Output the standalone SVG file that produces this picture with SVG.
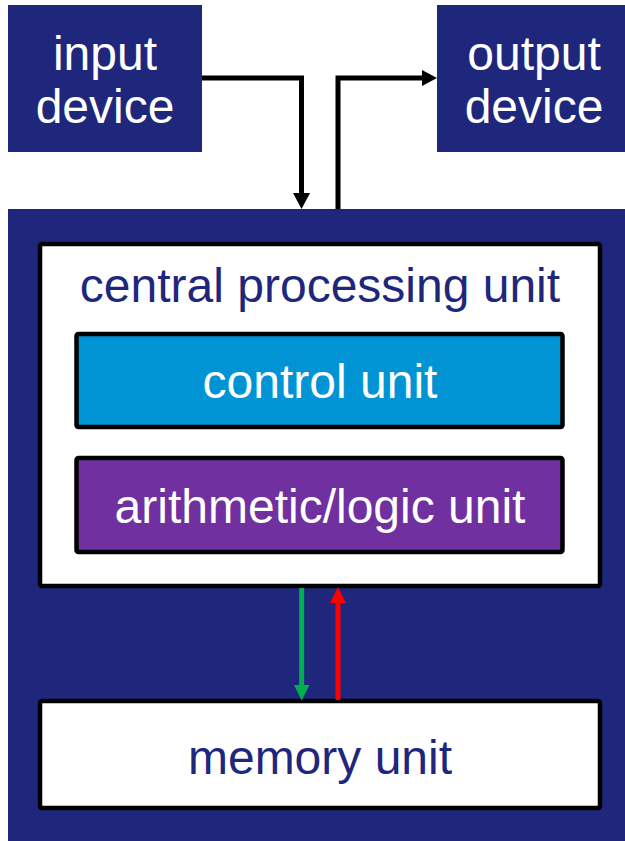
<svg xmlns="http://www.w3.org/2000/svg" width="625" height="841" viewBox="0 0 625 841">
  <defs>
    <style>
      .navy { fill: #1f277c; }
      .frame { stroke: #000; stroke-width: 4.5; stroke-linejoin: round; }
      .lbl { font-family: "Liberation Sans", Arial, sans-serif; font-size: 48px; text-anchor: middle; }
      .light { fill: #ffffff; }
      .dark { fill: #1f277c; }
      .wire { fill: none; stroke-width: 5; stroke-linejoin: miter; }
    </style>
  </defs>

  <rect width="625" height="841" fill="#ffffff"/>

  <!-- outer computer enclosure -->
  <g id="computer">
    <rect class="navy" x="8" y="209" width="625" height="640"/>
  </g>

  <g id="input-device">
    <rect class="navy" x="8" y="5" width="194" height="147"/>
    <text class="lbl light" x="105" y="70">input</text>
    <text class="lbl light" x="105" y="123">device</text>
  </g>

  <g id="output-device">
    <rect class="navy" x="437" y="5" width="200" height="147"/>
    <text class="lbl light" x="534" y="70">output</text>
    <text class="lbl light" x="534" y="123">device</text>
  </g>

  <g id="cpu">
    <rect class="frame" x="40" y="244" width="560" height="342" rx="2" fill="#ffffff"/>
    <text class="lbl dark" x="320" y="302">central processing unit</text>
  </g>

  <g id="control-unit">
    <rect class="frame" x="76.5" y="334" width="486" height="93" rx="2" fill="#0094d4"/>
    <text class="lbl light" x="320" y="398">control unit</text>
  </g>

  <g id="alu">
    <rect class="frame" x="76.5" y="458" width="486" height="94" rx="2" fill="#7030a0"/>
    <text class="lbl light" x="320" y="523">arithmetic/logic unit</text>
  </g>

  <g id="memory-unit">
    <rect class="frame" x="40" y="701" width="560" height="107" rx="2" fill="#ffffff"/>
    <text class="lbl dark" x="320" y="774">memory unit</text>
  </g>

  <g id="connectors">
    <!-- input device to computer -->
    <polyline class="wire" stroke="#000" points="202,78 301.5,78 301.5,194"/>
    <polygon fill="#000" points="293,193 310,193 301.5,209"/>
    <!-- computer to output device -->
    <polyline class="wire" stroke="#000" points="338,209 338,78 423,78"/>
    <polygon fill="#000" points="422,70 422,86 437,78"/>
    <!-- cpu to memory -->
    <line class="wire" stroke="#00b050" x1="301.7" y1="588" x2="301.7" y2="686"/>
    <polygon fill="#00b050" points="294,685 309.5,685 301.7,700.5"/>
    <!-- memory to cpu -->
    <line class="wire" stroke="#ff0000" x1="338" y1="700" x2="338" y2="602"/>
    <polygon fill="#ff0000" points="330,603 346,603 338,587"/>
  </g>
</svg>
